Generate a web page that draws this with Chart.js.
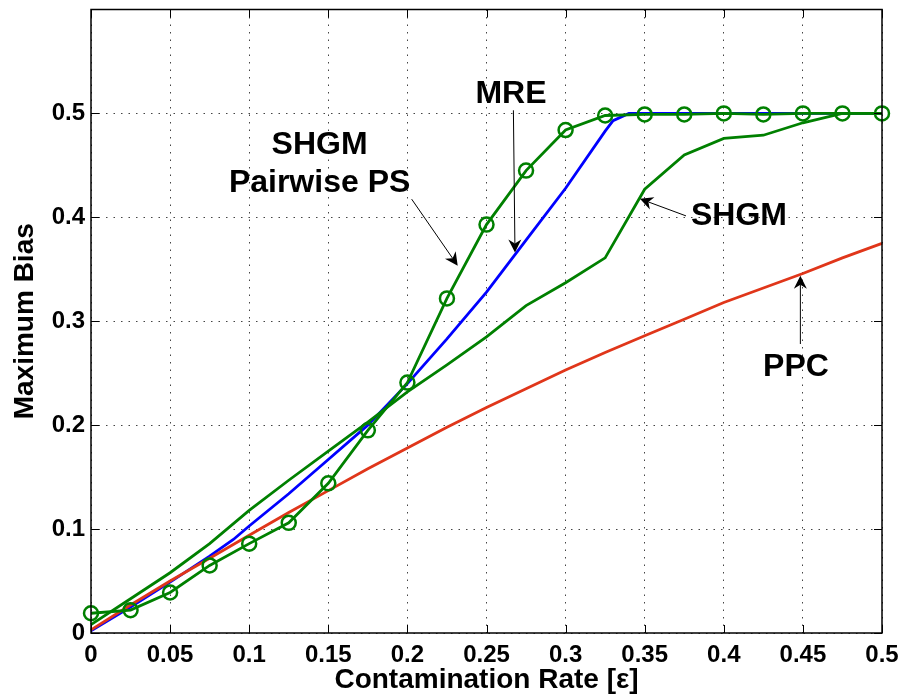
<!DOCTYPE html>
<html>
<head>
<meta charset="utf-8">
<script src="https://cdn.jsdelivr.net/npm/chart.js@4/dist/chart.umd.min.js"></script>
<style>
  html, body { margin: 0; padding: 0; background: #fff; }
  #wrap { width: 904px; height: 698px; position: relative; }
</style>
</head>
<body>
<div id="wrap"><canvas id="c" width="904" height="698"></canvas></div>
<script>
// ---- Data ----
const xTicks = [0, 0.05, 0.1, 0.15, 0.2, 0.25, 0.3, 0.35, 0.4, 0.45, 0.5];
const yTicks = [0, 0.1, 0.2, 0.3, 0.4, 0.5];

const ppcX = [0, 0.025, 0.05, 0.075, 0.1, 0.125, 0.15, 0.175, 0.2, 0.225, 0.25, 0.275, 0.3, 0.325, 0.35, 0.375, 0.4, 0.425, 0.45, 0.475, 0.5];
const ppcY = [0.003, 0.027, 0.050, 0.072, 0.094, 0.116, 0.137, 0.158, 0.178, 0.198, 0.217, 0.235, 0.253, 0.270, 0.286, 0.302, 0.318, 0.332, 0.346, 0.361, 0.375];

const mreX = [0, 0.025, 0.05, 0.075, 0.09, 0.1, 0.125, 0.15, 0.175, 0.2, 0.225, 0.25, 0.275, 0.3, 0.325, 0.33, 0.34, 0.4, 0.45, 0.5];
const mreY = [0.002, 0.025, 0.049, 0.074, 0.090, 0.103, 0.134, 0.167, 0.200, 0.240, 0.283, 0.328, 0.378, 0.428, 0.483, 0.493, 0.500, 0.500, 0.500, 0.500];

const shgmX = [0, 0.025, 0.05, 0.075, 0.1, 0.125, 0.15, 0.175, 0.2, 0.225, 0.25, 0.275, 0.3, 0.325, 0.35, 0.375, 0.4, 0.425, 0.45, 0.475, 0.5];
const shgmY = [0.008, 0.033, 0.058, 0.086, 0.118, 0.147, 0.175, 0.203, 0.232, 0.258, 0.285, 0.315, 0.337, 0.361, 0.427, 0.460, 0.476, 0.479, 0.491, 0.500, 0.500];

const psX = [0, 0.025, 0.05, 0.075, 0.1, 0.125, 0.15, 0.175, 0.2, 0.225, 0.25, 0.275, 0.3, 0.325, 0.35, 0.375, 0.4, 0.425, 0.45, 0.475, 0.5];
const psY = [0.019, 0.022, 0.039, 0.065, 0.086, 0.106, 0.144, 0.195, 0.241, 0.322, 0.393, 0.445, 0.484, 0.498, 0.499, 0.499, 0.500, 0.499, 0.500, 0.500, 0.500];

// annotation texts (anchored in data coordinates)
const noteTexts = [["SHGM", "Pairwise PS"], ["MRE"], ["SHGM"], ["PPC"]];
const noteAnchors = [[0.1445, 0.4607], [0.2655, 0.5096], [0.4096, 0.393], [0.4456, 0.2473]];
const arrowFrom = [[0.2027, 0.4175], [0.267, 0.503], [0.3761, 0.4014], [0.4484, 0.2781]];
const arrowTo   = [[0.2318, 0.3535], [0.268, 0.3662], [0.347, 0.4178], [0.4484, 0.3439]];

const FONT = "'Liberation Sans', Arial, Helvetica, sans-serif";
const GREEN = '#008000';
const BLUE = '#0000ff';
const RED = '#e0361a';

function pts(xs, ys) { return xs.map((x, i) => ({ x: x, y: ys[i] })); }

const annotPlugin = {
  id: 'annot',
  afterDatasetsDraw(chart) {
    const ctx = chart.ctx;
    const xs = chart.scales.x, ys = chart.scales.y;
    const a = chart.chartArea;
    ctx.save();
    // box
    ctx.strokeStyle = '#000';
    ctx.lineWidth = 1.5;
    ctx.strokeRect(a.left, a.top, a.right - a.left, a.bottom - a.top);
    // inner tick marks
    ctx.lineWidth = 1;
    const tl = 8;
    xTicks.forEach(v => {
      const px = Math.round(xs.getPixelForValue(v)) + 0.5;
      ctx.beginPath();
      ctx.moveTo(px, a.bottom); ctx.lineTo(px, a.bottom - tl);
      ctx.moveTo(px, a.top); ctx.lineTo(px, a.top + tl);
      ctx.stroke();
    });
    yTicks.forEach(v => {
      const py = Math.round(ys.getPixelForValue(v)) + 0.5;
      ctx.beginPath();
      ctx.moveTo(a.left, py); ctx.lineTo(a.left + tl, py);
      ctx.moveTo(a.right, py); ctx.lineTo(a.right - tl, py);
      ctx.stroke();
    });
    // texts
    ctx.fillStyle = '#000';
    ctx.font = 'bold 32px ' + FONT;
    ctx.textAlign = 'center';
    ctx.textBaseline = 'alphabetic';
    noteTexts.forEach((lines, i) => {
      const cx = xs.getPixelForValue(noteAnchors[i][0]);
      const by = ys.getPixelForValue(noteAnchors[i][1]);
      lines.forEach((t, j) => ctx.fillText(t, cx, by + j * 38));
    });
    // arrows
    arrowFrom.forEach((f, i) => {
      const x0 = xs.getPixelForValue(f[0]), y0 = ys.getPixelForValue(f[1]);
      const x1 = xs.getPixelForValue(arrowTo[i][0]), y1 = ys.getPixelForValue(arrowTo[i][1]);
      const ang = Math.atan2(y1 - y0, x1 - x0);
      const L = 13, W = 6.5, back = 9;
      ctx.strokeStyle = '#000';
      ctx.lineWidth = 1;
      ctx.beginPath();
      ctx.moveTo(x0, y0);
      ctx.lineTo(x1 - Math.cos(ang) * back, y1 - Math.sin(ang) * back);
      ctx.stroke();
      const cos = Math.cos(ang), sin = Math.sin(ang);
      const bx = x1 - cos * L, by = y1 - sin * L;
      const nx = x1 - cos * back, ny = y1 - sin * back;
      ctx.beginPath();
      ctx.moveTo(x1, y1);
      ctx.lineTo(bx - sin * W, by + cos * W);
      ctx.lineTo(nx, ny);
      ctx.lineTo(bx + sin * W, by - cos * W);
      ctx.closePath();
      ctx.fillStyle = '#000';
      ctx.fill();
    });
    ctx.restore();
  }
};

const fmt = v => {
  const n = Number(Number(v).toFixed(2));
  return n.toString();
};

new Chart(document.getElementById('c'), {
  type: 'line',
  data: {
    datasets: [
      { label: 'SHGM Pairwise PS', data: pts(psX, psY), borderColor: GREEN, borderWidth: 2.8,
        pointRadius: 7, pointBorderWidth: 2.5, pointBorderColor: GREEN, pointBackgroundColor: 'rgba(0,0,0,0)',
        pointStyle: 'circle', fill: false, tension: 0, clip: false, order: 1 },
      { label: 'SHGM', data: pts(shgmX, shgmY), borderColor: GREEN, borderWidth: 2.8,
        pointRadius: 0, fill: false, tension: 0, clip: false, order: 2 },
      { label: 'PPC', data: pts(ppcX, ppcY), borderColor: RED, borderWidth: 2.8,
        pointRadius: 0, fill: false, tension: 0, clip: false, order: 3 },
      { label: 'MRE', data: pts(mreX, mreY), borderColor: BLUE, borderWidth: 2.8,
        pointRadius: 0, fill: false, tension: 0, clip: false, order: 4 }
    ]
  },
  options: {
    responsive: false,
    animation: false,
    devicePixelRatio: 1,
    layout: { padding: { top: 7, right: 22, left: 0, bottom: 0 } },
    plugins: { legend: { display: false }, tooltip: { enabled: false } },
    scales: {
      x: {
        type: 'linear', min: 0, max: 0.5,
        afterBuildTicks: s => { s.ticks = xTicks.map(v => ({ value: v })); },
        afterFit: s => { s.height = 65; s.paddingLeft = 0; s.paddingRight = 0; },
        grid: { color: '#444', lineWidth: 1, drawTicks: false },
        border: { display: false, dash: [1.5, 6] },
        ticks: { callback: fmt, padding: 8, color: '#000', maxRotation: 0, autoSkip: false,
                 font: { family: FONT, size: 24, weight: 'bold' } },
        title: { display: true, text: 'Contamination Rate [ε]', color: '#000',
                 font: { family: FONT, size: 28, weight: 'bold' }, padding: { top: 0, bottom: 1 } }
      },
      y: {
        type: 'linear', min: 0, max: 0.6,
        afterBuildTicks: s => { s.ticks = yTicks.map(v => ({ value: v })); },
        afterFit: s => { s.width = 91; s.paddingTop = 0; s.paddingBottom = 0; },
        grid: { color: '#444', lineWidth: 1, drawTicks: false },
        border: { display: false, dash: [1.5, 6] },
        ticks: { callback: fmt, padding: 6, color: '#000',
                 font: { family: FONT, size: 24, weight: 'bold' } },
        title: { display: true, text: 'Maximum Bias', color: '#000',
                 font: { family: FONT, size: 28, weight: 'bold' }, padding: { top: 8, bottom: 0 } }
      }
    }
  },
  plugins: [annotPlugin]
});
</script>
</body>
</html>
